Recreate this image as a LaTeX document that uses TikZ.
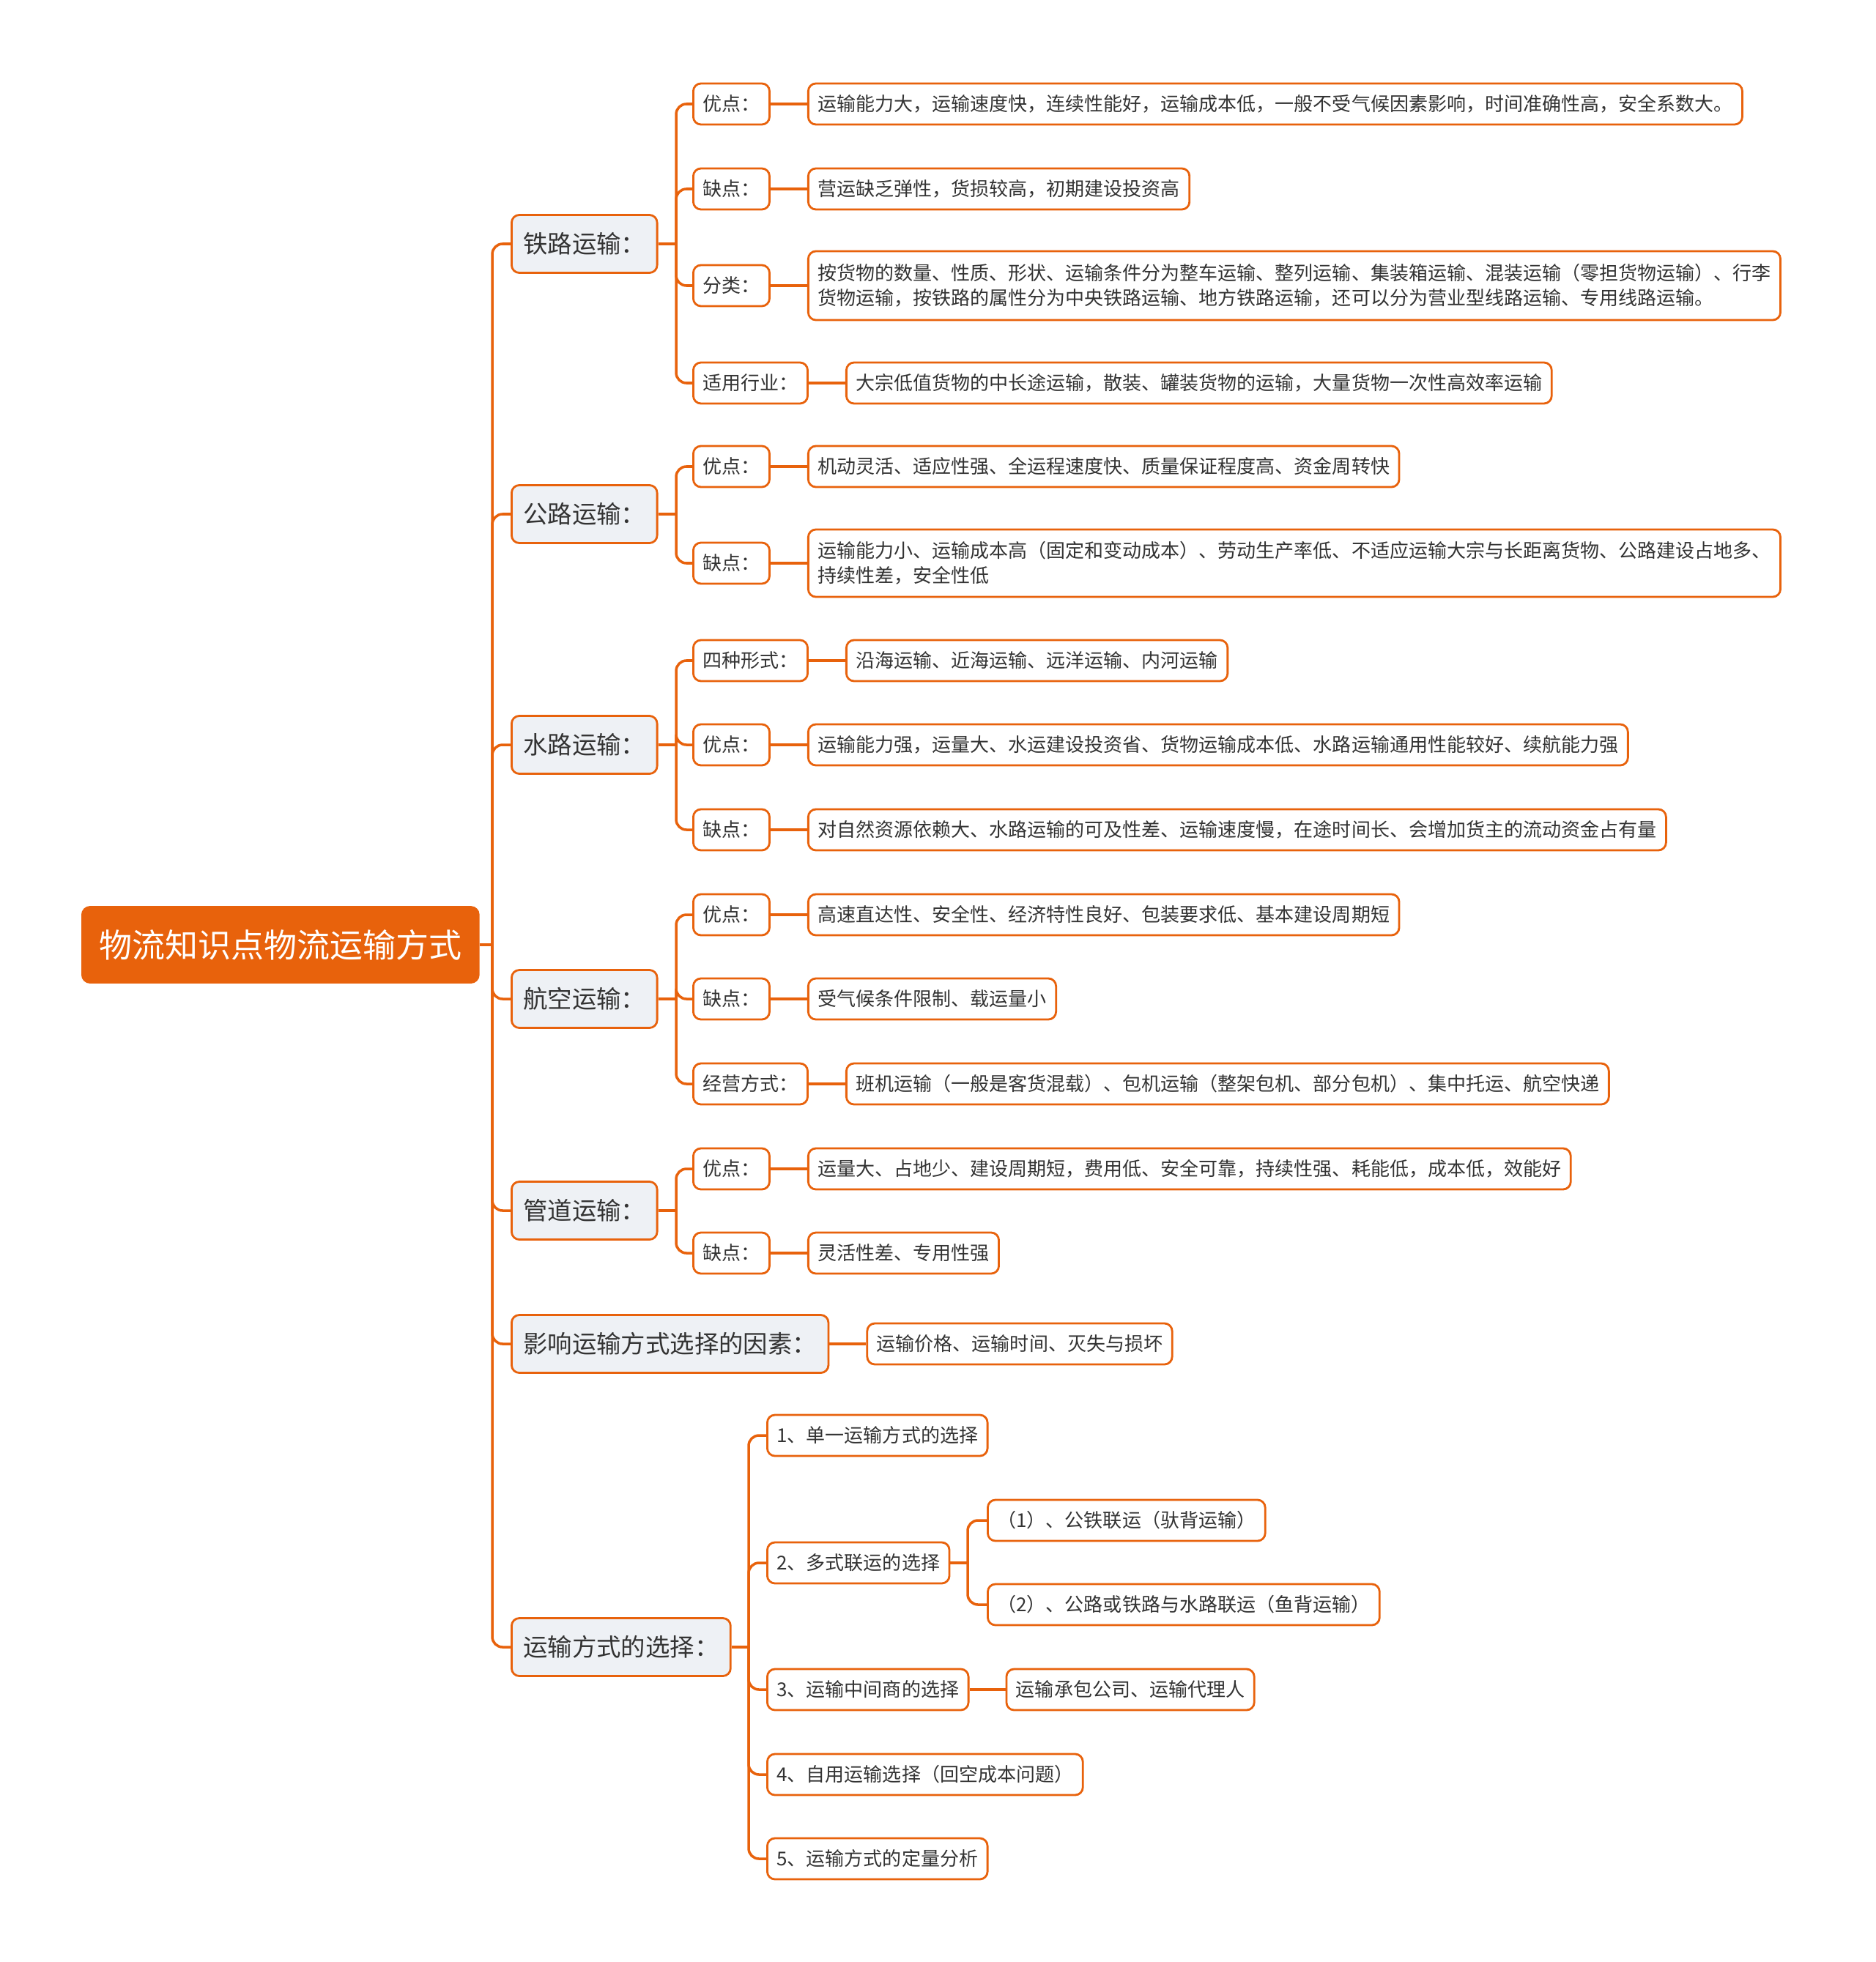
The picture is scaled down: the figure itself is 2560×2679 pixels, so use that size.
\documentclass[tikz,border=0pt]{standalone}
\usepackage{fontspec}
\setmainfont{Noto Sans CJK SC}
\usetikzlibrary{positioning}
\definecolor{mind-orange}{HTML}{E8620C}
\definecolor{topic-bg}{HTML}{EEF1F5}
\definecolor{ink}{HTML}{333333}

\tikzset{
  base/.style={draw=mind-orange, line width=0.8pt, rounded corners=3pt,
               text=ink, anchor=west, align=left},
  rootbox/.style={base, fill=mind-orange, text=white,
                  font=\fontsize{12.8}{15}\selectfont,
                  minimum height=1.03cm, inner xsep=6.5pt},
  topic/.style={base, fill=topic-bg, font=\fontsize{9.5}{11}\selectfont,
                minimum height=0.79cm, inner xsep=4.5pt},
  tag/.style={base, fill=white, font=\fontsize{7.4}{9.7}\selectfont,
              minimum height=0.56cm, inner xsep=3.7pt},
  leaf/.style={tag},
  conn/.style={draw=mind-orange, line width=1pt, rounded corners=4pt},
}

\begin{document}
\begin{tikzpicture}[x=0.01cm, y=-0.01cm]
  \useasboundingbox (0,0) rectangle (2560,2679);

  % root and main topics
  \node[rootbox] (root) at (111,1290) {物流知识点物流运输方式};
  \coordinate (trunk) at (672,1290);
  \node[topic] (rail)   at (697,333)  {铁路运输：};
  \node[topic] (road)   at (697,702)  {公路运输：};
  \node[topic] (water)  at (697,1017) {水路运输：};
  \node[topic] (air)    at (697,1364) {航空运输：};
  \node[topic] (pipe)   at (697,1653) {管道运输：};
  \node[topic] (factor) at (697,1835) {影响运输方式选择的因素：};
  \node[topic] (choice) at (697,2249) {运输方式的选择：};

  % railway
  \node[tag] (rGood) at (945,142) {优点：};
  \node[tag] (rBad)  at (945,258) {缺点：};
  \node[tag] (rKind) at (945,390) {分类：};
  \node[tag] (rUse)  at (945,523) {适用行业：};
  \node[leaf, right=0.5cm of rGood] (rGoodL) {运输能力大，运输速度快，连续性能好，运输成本低，一般不受气候因素影响，时间准确性高，安全系数大。};
  \node[leaf, right=0.5cm of rBad] (rBadL) {营运缺乏弹性，货损较高，初期建设投资高};
  \node[leaf, right=0.5cm of rKind, minimum height=0.94cm] (rKindL) {按货物的数量、性质、形状、运输条件分为整车运输、整列运输、集装箱运输、混装运输（零担货物运输）、行李\\货物运输，按铁路的属性分为中央铁路运输、地方铁路运输，还可以分为营业型线路运输、专用线路运输。};
  \node[leaf, right=0.5cm of rUse] (rUseL) {大宗低值货物的中长途运输，散装、罐装货物的运输，大量货物一次性高效率运输};

  % road
  \node[tag] (oGood) at (945,637) {优点：};
  \node[tag] (oBad)  at (945,769) {缺点：};
  \node[leaf, right=0.5cm of oGood] (oGoodL) {机动灵活、适应性强、全运程速度快、质量保证程度高、资金周转快};
  \node[leaf, right=0.5cm of oBad, minimum height=0.92cm] (oBadL) {运输能力小、运输成本高（固定和变动成本）、劳动生产率低、不适应运输大宗与长距离货物、公路建设占地多、\\持续性差，安全性低};

  % water
  \node[tag] (wForm) at (945,902)  {四种形式：};
  \node[tag] (wGood) at (945,1017) {优点：};
  \node[tag] (wBad)  at (945,1133) {缺点：};
  \node[leaf, right=0.5cm of wForm] (wFormL) {沿海运输、近海运输、远洋运输、内河运输};
  \node[leaf, right=0.5cm of wGood] (wGoodL) {运输能力强，运量大、水运建设投资省、货物运输成本低、水路运输通用性能较好、续航能力强};
  \node[leaf, right=0.5cm of wBad] (wBadL) {对自然资源依赖大、水路运输的可及性差、运输速度慢，在途时间长、会增加货主的流动资金占有量};

  % air
  \node[tag] (aGood) at (945,1249) {优点：};
  \node[tag] (aBad)  at (945,1364) {缺点：};
  \node[tag] (aWay)  at (945,1480) {经营方式：};
  \node[leaf, right=0.5cm of aGood] (aGoodL) {高速直达性、安全性、经济特性良好、包装要求低、基本建设周期短};
  \node[leaf, right=0.5cm of aBad] (aBadL) {受气候条件限制、载运量小};
  \node[leaf, right=0.5cm of aWay] (aWayL) {班机运输（一般是客货混载）、包机运输（整架包机、部分包机）、集中托运、航空快递};

  % pipeline
  \node[tag] (pGood) at (945,1596) {优点：};
  \node[tag] (pBad)  at (945,1711) {缺点：};
  \node[leaf, right=0.5cm of pGood] (pGoodL) {运量大、占地少、建设周期短，费用低、安全可靠，持续性强、耗能低，成本低，效能好};
  \node[leaf, right=0.5cm of pBad] (pBadL) {灵活性差、专用性强};

  % factors
  \node[leaf, right=0.5cm of factor] (factorL) {运输价格、运输时间、灭失与损坏};

  % choice
  \node[tag] (c1) at (1046,1960) {1、单一运输方式的选择};
  \node[tag] (c2) at (1046,2134) {2、多式联运的选择};
  \node[tag] (c3) at (1046,2307) {3、运输中间商的选择};
  \node[tag] (c4) at (1046,2423) {4、自用运输选择（回空成本问题）};
  \node[tag] (c5) at (1046,2538) {5、运输方式的定量分析};
  \node[leaf] (c2a) at (1347,2076) {（1）、公铁联运（驮背运输）};
  \node[leaf] (c2b) at (1347,2191) {（2）、公路或铁路与水路联运（鱼背运输）};
  \node[leaf, right=0.49cm of c3] (c3L) {运输承包公司、运输代理人};

  % junctions
  \coordinate (railJ)   at (923,333);
  \coordinate (roadJ)   at (923,702);
  \coordinate (waterJ)  at (923,1017);
  \coordinate (airJ)    at (923,1364);
  \coordinate (pipeJ)   at (923,1653);
  \coordinate (choiceJ) at (1022,2249);
  \coordinate (c2J)     at (1321,2134);

  % connectors
  \draw[conn] (root.east) -- (trunk);
  \foreach \t in {rail,road,water,air,pipe,factor,choice}
    \draw[conn] (trunk) |- (\t.west);

  \draw[conn] (rail.east) -- (railJ);
  \foreach \c in {rGood,rBad,rKind,rUse}
    \draw[conn] (railJ) |- (\c.west);
  \draw[conn] (road.east) -- (roadJ);
  \foreach \c in {oGood,oBad}
    \draw[conn] (roadJ) |- (\c.west);
  \draw[conn] (water.east) -- (waterJ);
  \foreach \c in {wForm,wGood,wBad}
    \draw[conn] (waterJ) |- (\c.west);
  \draw[conn] (air.east) -- (airJ);
  \foreach \c in {aGood,aBad,aWay}
    \draw[conn] (airJ) |- (\c.west);
  \draw[conn] (pipe.east) -- (pipeJ);
  \foreach \c in {pGood,pBad}
    \draw[conn] (pipeJ) |- (\c.west);
  \draw[conn] (choice.east) -- (choiceJ);
  \foreach \c in {c1,c2,c3,c4,c5}
    \draw[conn] (choiceJ) |- (\c.west);
  \draw[conn] (c2.east) -- (c2J);
  \foreach \c in {c2a,c2b}
    \draw[conn] (c2J) |- (\c.west);

  \foreach \c in {rGood,rBad,rKind,rUse,oGood,oBad,wForm,wGood,wBad,aGood,aBad,aWay,pGood,pBad,factor,c3}
    \draw[conn] (\c.east) -- (\c L.west);
\end{tikzpicture}
\end{document}
